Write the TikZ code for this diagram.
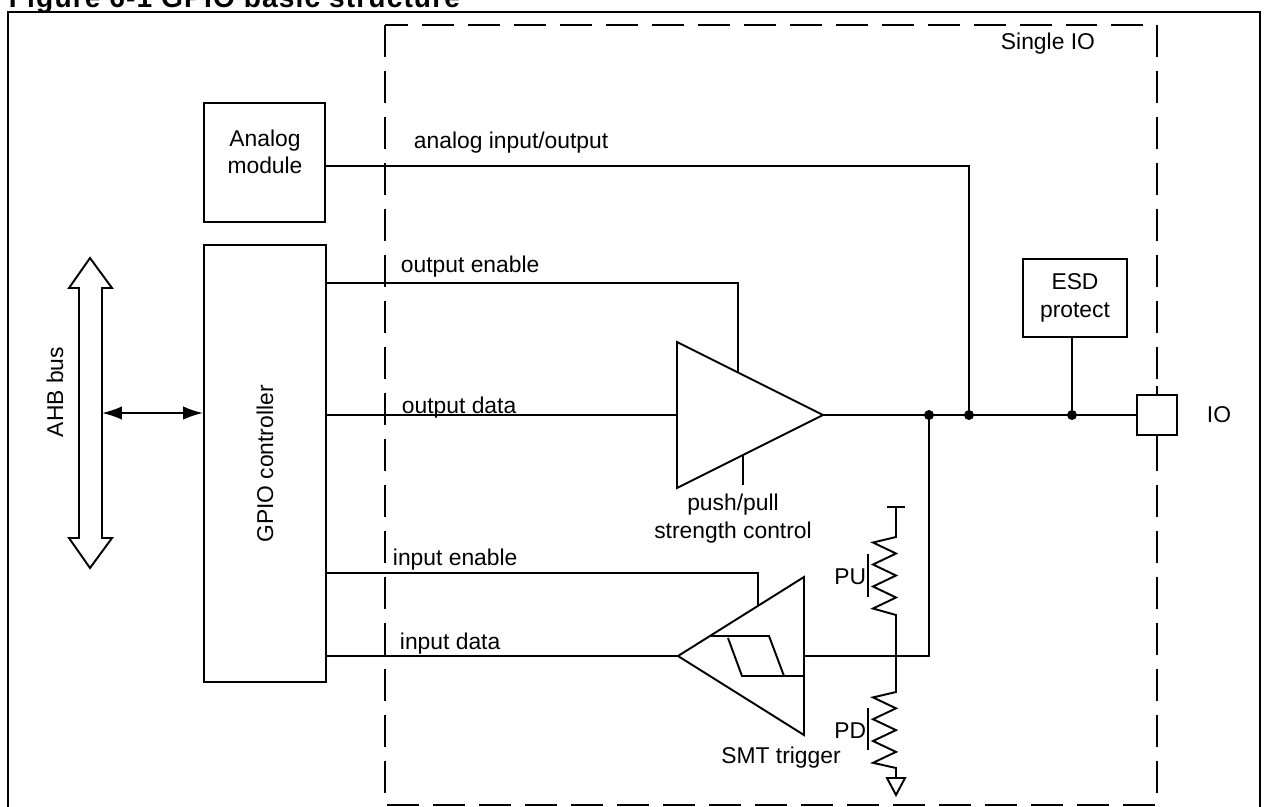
\documentclass[tikz,border=0pt]{standalone}
\usepackage{fontspec}
\setmainfont{Liberation Sans}
\usetikzlibrary{arrows.meta}
\begin{document}
\begin{tikzpicture}[x=0.02cm,y=-0.02cm,line width=1.1pt,
  every node/.style={font=\fontsize{13}{15.6}\selectfont,inner sep=0pt},
  box/.style={draw,align=center},
  lbl/.style={anchor=base west},
  frame/.style={dash pattern=on 0.64cm off 0.28cm},
  jdot/.style={fill=black},
  tip/.style={{Latex[length=0.4cm,width=0.27cm]}-{Latex[length=0.4cm,width=0.27cm]}}]
\useasboundingbox (0,0) rectangle (1268,806);
\node[lbl,font=\fontsize{16}{19}\bfseries\addfontfeature{LetterSpace=4}] (T) at (8,7) {Figure 6-1 GPIO basic structure};
\draw[line width=1.6pt] (8,830) -- (8,12) -- (1260,12) -- (1260,830);
\draw[frame] (385,25) rectangle (1157,805);
\node[lbl] (SIO) at (1000,49) {Single IO};
\coordinate[] (BUS) at (102,413);
\coordinate[] (AIO) at (969,166);
\coordinate[] (OE) at (738,283);
\coordinate[] (OEb) at (738,372.5);
\coordinate[] (B1) at (677,342);
\coordinate[] (B2) at (677,488);
\coordinate[] (B3) at (823,415);
\coordinate[] (BI) at (677,415);
\coordinate[] (SC1) at (743,455);
\coordinate[] (SC2) at (743,485);
\coordinate[] (IE) at (758,573);
\coordinate[] (IEb) at (758,606);
\coordinate[] (S1) at (678,656);
\coordinate[] (S2) at (804,577);
\coordinate[] (S3) at (804,735);
\coordinate[] (SI) at (804,656);
\coordinate[] (J1) at (929,415);
\coordinate[] (J2) at (969,415);
\coordinate[] (J3) at (1072,415);
\coordinate[] (J4) at (929,656);
\coordinate[] (VDD) at (896,507);
\coordinate[] (PU1) at (896,537);
\coordinate[] (PU2) at (896,615);
\coordinate[] (PD1) at (896,692);
\coordinate[] (PD2) at (896,768);
\coordinate[] (GND) at (896,778);
\node[box,minimum width=2.42cm,minimum height=2.38cm] (AM) at (264.5,162.5) {};
\node[align=center] (AMT) at (265,152) {Analog\\module};
\node[box,minimum width=2.44cm,minimum height=8.74cm] (GC) at (265,463.5) {};
\node[rotate=90] (GCT) at (265,464) {GPIO controller};
\node[box,minimum width=2.08cm,minimum height=1.56cm] (ESD) at (1075,298) {ESD\\protect};
\node[box,fill=white,minimum width=0.8cm,minimum height=0.8cm] (IO) at (1157,415) {};
\node[] (IOT) at (1219,415) {IO};
\draw[] (90,258) -- (112,288) -- (102,288) -- (102,538) -- (112,538) -- (90,568)
  -- (69,538) -- (79,538) -- (79,288) -- (69,288) -- cycle;
\node[rotate=90] (AHB) at (55,392) {AHB bus};
\draw[tip] (BUS) -- (GC.west |- BUS);
\draw[] (AM.east |- AIO) -- (AIO) -- (J2);
\node[lbl] (LA) at (413,148) {analog input/output};
\draw[] (GC.east |- OE) -- (OE) -- (OEb);
\node[lbl] (LOE) at (400,272) {output enable};
\draw[] (GC.east |- BI) -- (BI);
\node[lbl] (LOD) at (401,413) {output data};
\draw[] (B1) -- (B3) -- (B2) -- cycle;
\draw[] (SC1) -- (SC2);
\node[align=center,anchor=base] (LSC) at (733,538) {push/pull\\strength control};
\draw[] (B3) -- (IO.west);
\draw[] (ESD.south -| J3) -- (J3);
\draw[] (IO.north) -- ++(0,-8);
\draw[] (IO.south) -- ++(0,8);
\draw[] (GC.east |- IE) -- (IE) -- (IEb);
\node[lbl] (LIE) at (392,565) {input enable};
\draw[] (GC.east |- S1) -- (S1);
\node[lbl] (LID) at (399,649) {input data};
\draw[] (S1) -- (S2) -- (S3) -- cycle;
\draw[] (710,636) -- (769,636) -- (784,676);
\draw[] (728,638) -- (742,676) -- (804,676);
\node[anchor=base] (LST) at (781,763) {SMT trigger};
\draw[] (SI) -- (J4) -- (J1);
\draw[] (887,507) -- (905,507);
\draw[] (VDD) -- (PU1) -- ++(-23,5.5) -- ++(23,11) -- ++(-23,11) -- ++(23,11)
  -- ++(-23,11) -- ++(23,11) -- ++(-23,11) -- (PU2) -- (PD1)
  -- ++(-23,5.4) -- ++(23,10.9) -- ++(-23,10.9) -- ++(23,10.9)
  -- ++(-23,10.9) -- ++(23,10.9) -- ++(-23,10.9) -- (PD2) -- (GND);
\draw[] (887,778) -- (905,778) -- (896,795) -- cycle;
\draw[] (868,554) -- (868,597);
\node[anchor=base east] (LPU) at (867,584) {PU};
\draw[] (868,708) -- (868,750);
\node[anchor=base east] (LPD) at (867,738) {PD};
\foreach \p in {J1,J2,J3}
  \fill[jdot] (\p) circle (0.1cm);
\end{tikzpicture}
\end{document}
